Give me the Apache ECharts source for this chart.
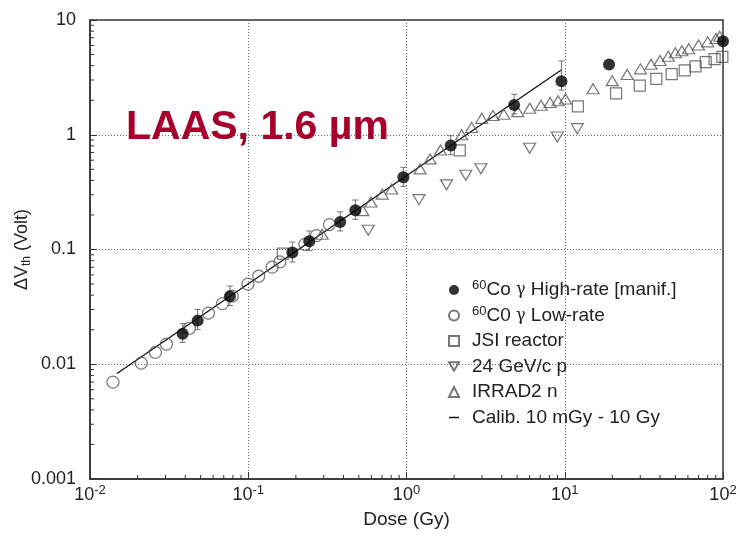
<!DOCTYPE html>
<html lang="en">
<head>
<meta charset="UTF-8">
<title>LAAS, 1.6 um</title>
<script src="https://cdn.jsdelivr.net/npm/echarts@6/dist/echarts.min.js"></script>
<style>
    html, body { margin: 0; padding: 0; background: #fff; }
    #chart { width: 740px; height: 541px; }
</style>
</head>
<body>
<div id="chart"></div>
<script>
// [dose (Gy), delta Vth (V)]
var highRate = [[0.0385, 0.0184], [0.0479, 0.0240], [0.0766, 0.0391], [0.190, 0.094], [0.243, 0.118],
    [0.381, 0.174], [0.475, 0.220], [0.955, 0.426], [1.905, 0.805], [4.79, 1.82], [9.53, 2.93],
    [19.05, 4.09], [100, 6.53]];
// [low, high] error bars for the first high-rate points
var highRateErr = [[0.0155, 0.0226], [0.0200, 0.0300], [0.0325, 0.048], [0.078, 0.116], [0.098, 0.145],
    [0.145, 0.213], [0.183, 0.27], [0.355, 0.52], [0.67, 0.98], [1.52, 2.25], [2.45, 4.4]];
var lowRate = [[0.01396, 0.00698], [0.0211, 0.01023], [0.0259, 0.0127], [0.0304, 0.01497], [0.0425, 0.0206],
    [0.0560, 0.0279], [0.0687, 0.0338], [0.0793, 0.0393], [0.0995, 0.0499], [0.1164, 0.0585],
    [0.1416, 0.0703], [0.1585, 0.078], [0.228, 0.111], [0.270, 0.132], [0.326, 0.165]];
var jsi = [[0.1655, 0.092], [2.17, 0.732], [12.1, 1.77], [21.1, 2.29], [29.8, 2.68], [37.9, 3.07],
    [47.4, 3.37], [57.3, 3.64], [67.1, 3.95], [77.8, 4.29], [88.5, 4.56], [99.1, 4.78]];
var proton = [[0.573, 0.147], [1.2, 0.272], [1.79, 0.366], [2.37, 0.443], [2.95, 0.506], [6.0, 0.762],
    [8.97, 0.955], [12.0, 1.13]];
var irrad2 = [[0.293, 0.136], [0.530, 0.218], [0.596, 0.259], [0.703, 0.304], [0.807, 0.337], [1.22, 0.504],
    [1.41, 0.616], [1.64, 0.737], [2.23, 1.00], [2.58, 1.156], [2.99, 1.39], [3.52, 1.47], [4.12, 1.51],
    [5.05, 1.59], [6.01, 1.70], [7.08, 1.81], [8.08, 1.91], [9.08, 1.98], [10.1, 2.05], [15.1, 2.52],
    [19.95, 2.96], [24.8, 3.35], [30.1, 3.75], [35.1, 4.12], [40.0, 4.43], [45.1, 4.83], [50.0, 5.18],
    [55.0, 5.39], [60.7, 5.61], [70.0, 6.05], [80.0, 6.45], [90.3, 6.90], [95.3, 7.22]];
var calib = [[0.0148, 0.0083], [9.6, 3.7]];

var yTickLabels = ['0.001', '0.01', '0.1', '1', '10'];
var xTickExp = ['-2', '-1', '0', '1', '2'];
var minorX = [0.02, 0.03, 0.04, 0.05, 0.06, 0.07, 0.08, 0.09, 0.2, 0.3, 0.4, 0.5, 0.6, 0.7, 0.8, 0.9,
    2, 3, 4, 5, 6, 7, 8, 9, 20, 30, 40, 50, 60, 70, 80, 90];
var minorY = [0.002, 0.003, 0.004, 0.005, 0.006, 0.007, 0.008, 0.009, 0.02, 0.03, 0.04, 0.05, 0.06, 0.07,
    0.08, 0.09, 0.2, 0.3, 0.4, 0.5, 0.6, 0.7, 0.8, 0.9, 2, 3, 4, 5, 6, 7, 8, 9];

var FONT = 'Liberation Sans, Arial, sans-serif';
var DOWN_TRI = 'path://M0,0L12,0L6,10Z';
var openStyle = { color: 'rgba(0,0,0,0)', borderColor: '#555', borderWidth: 1.2 };

var chart = echarts.init(document.getElementById('chart'));

chart.setOption({
    animation: false,
    title: {
        text: 'LAAS, 1.6 µm',
        left: 121,
        top: 102,
        textStyle: { color: '#a8002c', fontSize: 41, fontWeight: 'bold', fontFamily: FONT }
    },
    grid: {
        left: 90, right: 17, top: 20, bottom: 62,
        containLabel: false, outerBoundsMode: 'none',
        show: true, borderColor: '#333', borderWidth: 1.5
    },
    legend: {
        orient: 'vertical',
        left: 443,
        top: 274,
        itemWidth: 10,
        itemHeight: 10,
        itemGap: 3.5,
        textStyle: {
            fontFamily: FONT, fontSize: 19, color: '#222', lineHeight: 22, padding: [0, 0, 0, 8],
            rich: {
                sup: { fontFamily: FONT, fontSize: 13, color: '#222', lineHeight: 12, verticalAlign: 'top' },
                g: { fontFamily: 'DejaVu Serif, serif', fontSize: 16, color: '#222', lineHeight: 22 }
            }
        },
        formatter: function (name) {
            return name.replace(/^60/, '{sup|60}').replace('γ', '{g|γ}');
        },
        data: ['60Co γ High-rate [manif.]', '60C0 γ Low-rate', 'JSI reactor', '24 GeV/c p', 'IRRAD2 n',
            { name: 'Calib. 10 mGy - 10 Gy', icon: 'path://M0,0H10V1.5H0Z', itemStyle: { color: '#111' } }]
    },
    xAxis: {
        type: 'log',
        logBase: 10,
        min: 0.01,
        max: 100,
        name: 'Dose (Gy)',
        nameLocation: 'middle',
        nameGap: 31,
        nameMoveOverlap: false,
        nameTextStyle: { fontFamily: FONT, fontSize: 19, color: '#222' },
        axisLine: { lineStyle: { color: '#333', width: 1.5 } },
        axisTick: { inside: true, length: 7, lineStyle: { color: '#333' } },
        splitLine: { show: true, lineStyle: { color: '#666', type: [1, 2], width: 1 } },
        axisLabel: {
            margin: 5,
            formatter: function (v, i) { return '{b|10}{s|' + xTickExp[i] + '}'; },
            rich: {
                b: { fontFamily: FONT, fontSize: 18, color: '#222', lineHeight: 22 },
                s: { fontFamily: FONT, fontSize: 13, color: '#222', lineHeight: 14, verticalAlign: 'top' }
            }
        }
    },
    yAxis: {
        type: 'log',
        logBase: 10,
        min: 0.001,
        max: 10,
        name: '{a|ΔV}{s|th}{a| (Volt)}',
        nameLocation: 'middle',
        nameGap: 57,
        nameMoveOverlap: false,
        nameTextStyle: {
            rich: {
                a: { fontFamily: FONT, fontSize: 18, color: '#222', lineHeight: 22 },
                s: { fontFamily: FONT, fontSize: 12, color: '#222', lineHeight: 14, verticalAlign: 'bottom' }
            }
        },
        axisLine: { lineStyle: { color: '#333', width: 1.5 } },
        axisTick: { inside: true, length: 7, lineStyle: { color: '#333' } },
        splitLine: { show: true, lineStyle: { color: '#666', type: [1, 2], width: 1 } },
        axisLabel: {
            margin: 14,
            fontFamily: FONT, fontSize: 18, color: '#222',
            formatter: function (v, i) { return yTickLabels[i]; }
        }
    },
    series: [
        {
            name: 'Calib. 10 mGy - 10 Gy',
            type: 'line',
            data: calib,
            showSymbol: false,
            symbol: 'none',
            lineStyle: { color: '#111', width: 1.3 },
            itemStyle: { color: '#111' },
            z: 2
        },
        {
            name: '60C0 γ Low-rate', type: 'scatter', data: lowRate,
            symbol: 'circle', symbolSize: 12, itemStyle: openStyle, z: 3
        },
        {
            name: 'JSI reactor', type: 'scatter', data: jsi,
            symbol: 'rect', symbolSize: 11, itemStyle: openStyle, z: 3
        },
        {
            name: '24 GeV/c p', type: 'scatter', data: proton,
            symbol: DOWN_TRI, symbolSize: [12, 10], itemStyle: openStyle, z: 3
        },
        {
            name: 'IRRAD2 n', type: 'scatter', data: irrad2,
            symbol: 'triangle', symbolSize: [12, 10], itemStyle: openStyle, z: 3
        },
        {
            name: '60Co γ High-rate [manif.]', type: 'scatter', data: highRate,
            symbol: 'circle', symbolSize: 12, itemStyle: { color: '#000' }, z: 5
        },
        {
            // error bars on the high-rate points
            type: 'custom',
            silent: true,
            z: 4,
            data: highRateErr.map(function (e, i) { return [highRate[i][0], e[0], e[1]]; }),
            renderItem: function (params, api) {
                var lo = api.coord([api.value(0), api.value(1)]);
                var hi = api.coord([api.value(0), api.value(2)]);
                var st = { stroke: '#666', lineWidth: 0.9 };
                return {
                    type: 'group',
                    children: [
                        { type: 'line', shape: { x1: lo[0], y1: lo[1], x2: hi[0], y2: hi[1] }, style: st },
                        { type: 'line', shape: { x1: lo[0] - 3, y1: lo[1], x2: lo[0] + 3, y2: lo[1] }, style: st },
                        { type: 'line', shape: { x1: hi[0] - 3, y1: hi[1], x2: hi[0] + 3, y2: hi[1] }, style: st }
                    ]
                };
            }
        },
        {
            // minor ticks on the dose axis
            type: 'custom',
            silent: true,
            z: 6,
            data: minorX.map(function (v) { return [v, 0.001]; }),
            renderItem: function (params, api) {
                var p = api.coord([api.value(0), api.value(1)]);
                return { type: 'line', shape: { x1: p[0], y1: p[1], x2: p[0], y2: p[1] - 4 },
                    style: { stroke: '#333', lineWidth: 1 } };
            }
        },
        {
            // minor ticks on the voltage axis
            type: 'custom',
            silent: true,
            z: 6,
            data: minorY.map(function (v) { return [0.01, v]; }),
            renderItem: function (params, api) {
                var p = api.coord([api.value(0), api.value(1)]);
                return { type: 'line', shape: { x1: p[0], y1: p[1], x2: p[0] + 4, y2: p[1] },
                    style: { stroke: '#333', lineWidth: 1 } };
            }
        }
    ]
});
</script>
</body>
</html>
